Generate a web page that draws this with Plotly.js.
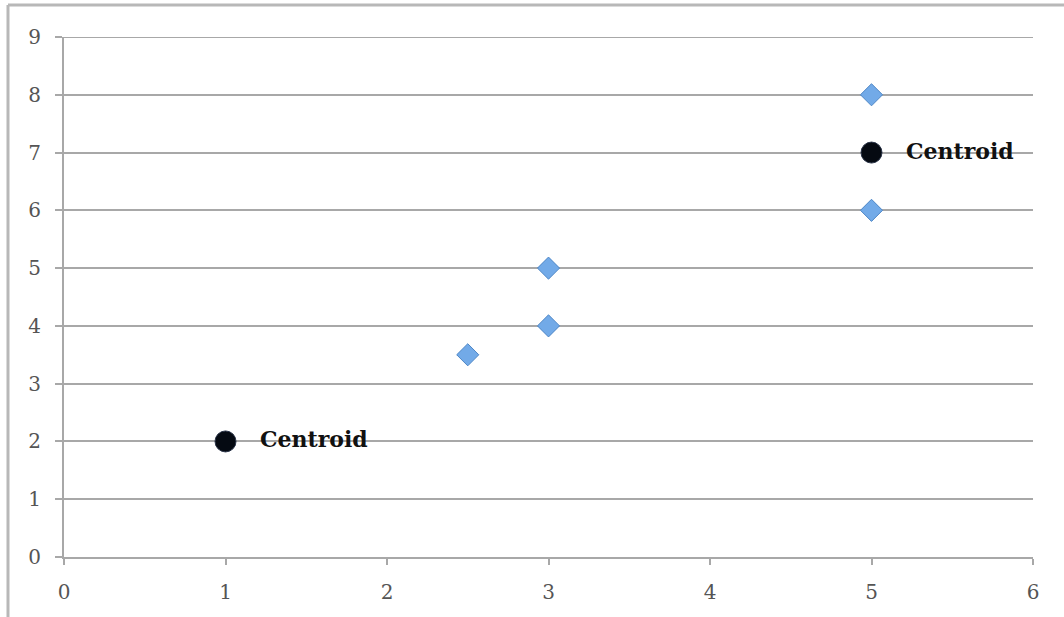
<!DOCTYPE html>
<html>
<head>
<meta charset="utf-8">
<script src="https://cdn.plot.ly/plotly-3.0.1.min.js"></script>
<style>
html,body{margin:0;padding:0;background:#fff;}
#chart{width:1064px;height:617px;}
</style>
</head>
<body>
<div id="chart"></div>
<script>
// Data points (blue diamonds)
const pointsX = [2.5, 3, 3, 5, 5];
const pointsY = [3.5, 4, 5, 6, 8];
// Centroids (black circles)
const centroidX = [1, 5];
const centroidY = [2, 7];
const centroidLabels = ["Centroid", "Centroid"];
const xTicks = [0, 1, 2, 3, 4, 5, 6];
const yTicks = [0, 1, 2, 3, 4, 5, 6, 7, 8, 9];

const traces = [
  {
    x: pointsX, y: pointsY, type: 'scatter', mode: 'markers',
    marker: {symbol: 'diamond', size: 17, color: '#72aae8', line: {color: '#4d86c6', width: 1}},
    hoverinfo: 'x+y'
  },
  {
    x: centroidX, y: centroidY, type: 'scatter', mode: 'markers',
    marker: {symbol: 'circle', size: 21, color: '#050a12', line: {color: '#2a3448', width: 1}},
    hoverinfo: 'x+y'
  }
];

const annotations = centroidX.map((x, i) => ({
  x: x, y: centroidY[i], xref: 'x', yref: 'y', text: centroidLabels[i],
  showarrow: false, xanchor: 'left', yanchor: 'middle', xshift: 32, yshift: 2,
  font: {family: 'DejaVu Serif', size: 22, color: '#111', weight: 'bold'}
}));

const layout = {
  width: 1064, height: 617,
  margin: {l: 64, r: 31, t: 37, b: 60},
  paper_bgcolor: '#fff', plot_bgcolor: '#fff',
  showlegend: false,
  xaxis: {
    range: [0, 6], tickvals: xTicks, ticktext: xTicks.map(String),
    showgrid: false, zeroline: false, showline: true, linecolor: '#a8a8a8', linewidth: 2,
    ticks: 'outside', ticklen: 6, tickcolor: '#a8a8a8', tickwidth: 2,
    ticklabelstandoff: 10,
    tickfont: {family: 'DejaVu Serif', size: 20, color: '#555'}
  },
  yaxis: {
    range: [0, 9], tickvals: yTicks, ticktext: yTicks.map(String),
    showgrid: true, gridcolor: '#a8a8a8', gridwidth: 2,
    zeroline: false, showline: true, linecolor: '#a8a8a8', linewidth: 2,
    ticks: 'outside', ticklen: 7, tickcolor: '#a8a8a8', tickwidth: 2,
    ticklabelstandoff: 10,
    tickfont: {family: 'DejaVu Serif', size: 20, color: '#555'}
  },
  annotations: annotations,
  shapes: [
    {type: 'line', xref: 'paper', yref: 'y', x0: 0, x1: 1, y0: 9, y1: 9,
     line: {color: '#a8a8a8', width: 2}, layer: 'below'},
    {type: 'line', xref: 'paper', yref: 'paper', x0: -0.0578, x1: 1.05, y0: 1.0615, y1: 1.0615,
     line: {color: '#b8b8b8', width: 3}},
    {type: 'line', xref: 'paper', yref: 'paper', x0: -0.0578, x1: -0.0578, y0: 1.0615, y1: -0.13,
     line: {color: '#b8b8b8', width: 3}}
  ]
};

Plotly.newPlot('chart', traces, layout, {displayModeBar: false, staticPlot: true});
</script>
</body>
</html>
